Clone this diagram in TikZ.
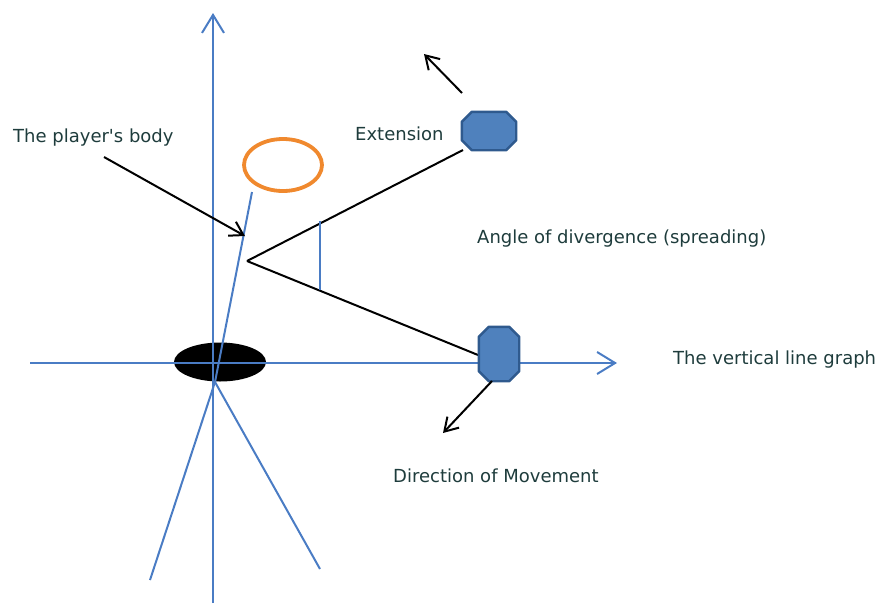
\documentclass[tikz,border=0pt]{standalone}
\usepackage{fontspec}
\setmainfont{DejaVu Sans}
\usetikzlibrary{arrows.meta,shapes.geometric}
\definecolor{axisblue}{HTML}{4A7CC4}
\definecolor{octfill}{HTML}{4F81BD}
\definecolor{octdraw}{HTML}{2F5A8E}
\definecolor{ringorange}{HTML}{F0892E}
\definecolor{txt}{HTML}{1E3C3C}
\tikzset{
  axis/.style={draw=axisblue, line width=2pt, -{Straight Barb[length=18pt,width=22pt,line width=2pt]}},
  blueline/.style={draw=axisblue, line width=2pt},
  blackline/.style={draw=black, line width=2pt},
  blackarrow/.style={draw=black, line width=2pt, -{Straight Barb[length=13pt,width=16pt,line width=2pt]}},
  octbox/.style={rectangle, inner sep=0pt},
  octline/.style={fill=octfill, draw=octdraw, line width=2.4pt, line join=round},
  lbl/.style={text=txt, font=\fontsize{18}{21}\selectfont, inner sep=0pt},
}
\newcommand\octagonat[2]{%
  \draw[octline] ([xshift=#2]#1.north west) -- ([xshift=-#2]#1.north east)
    -- ([yshift=-#2]#1.north east) -- ([yshift=#2]#1.south east)
    -- ([xshift=-#2]#1.south east) -- ([xshift=#2]#1.south west)
    -- ([yshift=#2]#1.south west) -- ([yshift=-#2]#1.north west) -- cycle;}
\begin{document}
\begin{tikzpicture}[x=1pt,y=-1pt]
\useasboundingbox (0,0) rectangle (878,603);
% coordinates
\coordinate (vbot) at (213,603);
\coordinate (vtop) at (213,13);
\coordinate (hleft) at (30,363);
\coordinate (hright) at (617,363);
\coordinate (bodytop) at (252,192);
\coordinate (hip) at (215,382);
\coordinate (lfoot) at (150,580);
\coordinate (rfoot) at (320,569);
\coordinate (vertex) at (247,261);
\coordinate (ptail) at (104,157);
\coordinate (ptip) at (245,236);
\coordinate (arcT) at (320,221);
\coordinate (arcB) at (320,290);
\coordinate (upend) at (463,150);
\coordinate (lowend) at (478,355);
\coordinate (exttail) at (462,93);
\coordinate (exttip) at (424,54);
\coordinate (dirtail) at (492,381);
\coordinate (dirtip) at (443,433);
% black ellipse (feet)
\node[ellipse, fill=black, minimum width=92pt, minimum height=39pt, inner sep=0pt] (feet) at (220,362) {};
% head ring
\draw[ringorange, line width=3.8pt] (283,165) ellipse [x radius=39pt, y radius=26pt];
% axes
\draw[axis] (vbot) -- (vtop);
\draw[axis] (hleft) -- (hright);
% body and legs
\draw[blueline] (bodytop) -- (hip);
\draw[blueline] (hip) -- (lfoot);
\draw[blueline] (hip) -- (rfoot);
% angle lines
\draw[blackline] (vertex) -- (upend);
\draw[blackline] (vertex) -- (lowend);
\draw[blueline] (arcT) -- (arcB);
% octagons
\node[octbox, minimum width=54pt, minimum height=38pt] (oup) at (489,131) {};
\octagonat{oup}{10pt}
\node[octbox, minimum width=40pt, minimum height=54pt] (olow) at (499,354) {};
\octagonat{olow}{10pt}
% arrows
\draw[blackarrow] (ptail) -- (ptip);
\draw[blackarrow] (exttail) -- (exttip);
\draw[blackarrow] (dirtail) -- (dirtip);
% labels
\node[lbl, anchor=base west] (tbody) at (13,142) {The player\textquotesingle s body};
\node[lbl, anchor=base west] (text) at (355,140) {Extension};
\node[lbl, anchor=base west] (tangle) at (477,243) {Angle of divergence (spreading)};
\node[lbl, anchor=base west] (tgraph) at (673,364) {The vertical line graph};
\node[lbl, anchor=base west] (tdir) at (393,482) {Direction of Movement};
\end{tikzpicture}
\end{document}
